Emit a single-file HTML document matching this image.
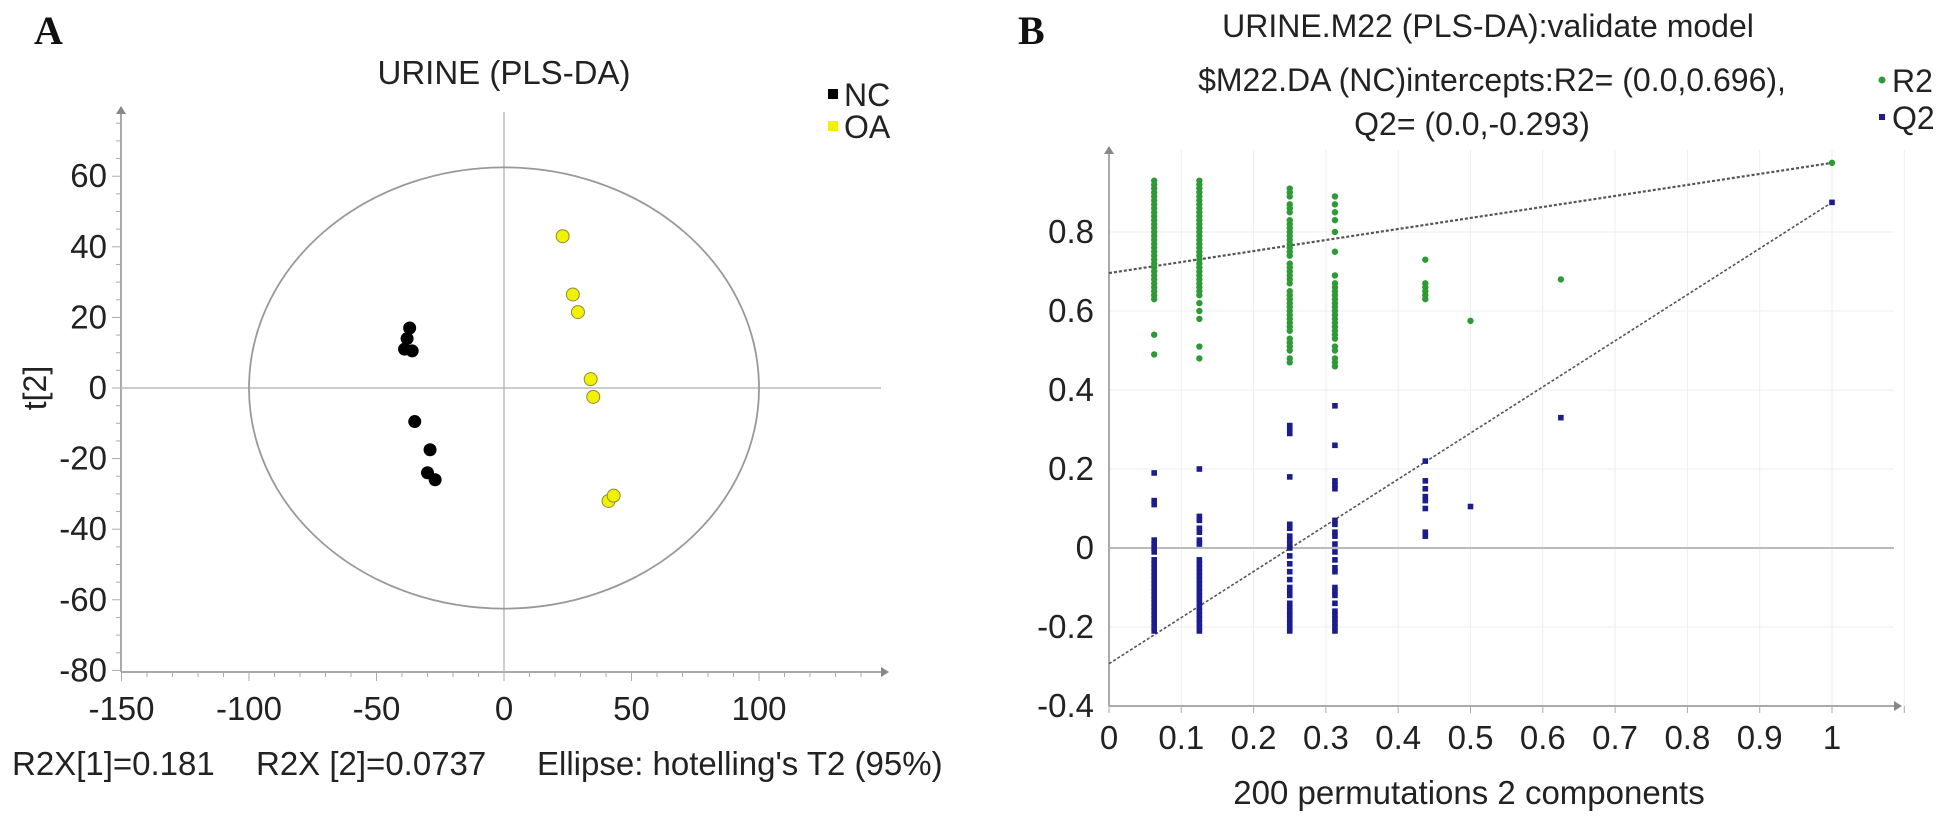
<!DOCTYPE html>
<html><head><meta charset="utf-8">
<style>
html,body{margin:0;padding:0;background:#fff;}
svg{display:block;font-family:"Liberation Sans",Arial,sans-serif;}
</style></head>
<body>
<svg id="fig" width="1960" height="817" viewBox="0 0 1960 817" xmlns="http://www.w3.org/2000/svg">
  <text x="34" y="44" font-family="Liberation Serif,serif" font-weight="bold" font-size="40" fill="#111">A</text>
  <text x="1018" y="44" font-family="Liberation Serif,serif" font-weight="bold" font-size="40" fill="#111">B</text>
  <text x="504" y="84" text-anchor="middle" font-size="33" fill="#222">URINE (PLS-DA)</text>
  <text x="1488" y="37" text-anchor="middle" font-size="32" fill="#222">URINE.M22 (PLS-DA):validate model</text>
  <text x="1492" y="91" text-anchor="middle" font-size="32" fill="#222">$M22.DA (NC)intercepts:R2= (0.0,0.696),</text>
  <text x="1472" y="135" text-anchor="middle" font-size="32" fill="#222">Q2= (0.0,-0.293)</text>
  <g id="gA"></g>
  <g id="gB"></g>
  <g>
    <rect x="828" y="89" width="10" height="10" fill="#000"/>
    <text x="844" y="106" font-size="32" fill="#222">NC</text>
    <rect x="828" y="121" width="10" height="10" fill="#f2f200"/>
    <text x="844" y="138" font-size="32" fill="#222">OA</text>
  </g>
  <g>
    <circle cx="1882" cy="80" r="3.5" fill="#2e9a35"/>
    <text x="1892" y="92" font-size="32" fill="#222">R2</text>
    <rect x="1879" y="114" width="6" height="6" fill="#1c1c8c"/>
    <text x="1892" y="129" font-size="32" fill="#222">Q2</text>
  </g>
  <text x="12" y="775" font-size="33" fill="#222">R2X[1]=0.181</text>
  <text x="256" y="775" font-size="33" fill="#222">R2X [2]=0.0737</text>
  <text x="537" y="775" font-size="33" fill="#222">Ellipse: hotelling's T2 (95%)</text>
  <text x="1469" y="804" text-anchor="middle" font-size="33" fill="#222">200 permutations 2 components</text>
  <text transform="translate(46,388) rotate(-90)" text-anchor="middle" font-size="32" fill="#222">t[2]</text>
</svg>
<script>
// ---- Panel A data ----
const ncX = [-38, -37, -39, -36, -35, -29, -30, -27];
const ncY = [14, 17, 11, 10.5, -9.5, -17.5, -24, -26];
const oaX = [23, 27, 29, 34, 35, 41, 43];
const oaY = [43, 26.5, 21.5, 2.5, -2.5, -32, -30.5];
const aXTicks = [-150, -100, -50, 0, 50, 100];
const aYTicks = [60, 40, 20, 0, -20, -40, -60, -80];
const ellipseRadii = [100, 62.5];

// ---- Panel B data ----
const permX = [0.0625, 0.125, 0.25, 0.3125, 0.4375, 0.5, 0.625, 1];
const r2Cols = [
  [0.93,0.92,0.91,0.90,0.89,0.88,0.87,0.86,0.85,0.84,0.83,0.82,0.81,0.80,0.79,0.78,0.77,0.76,0.75,0.74,0.73,0.72,0.71,0.70,0.69,0.68,0.67,0.66,0.65,0.64,0.63,0.54,0.49],
  [0.93,0.92,0.91,0.90,0.89,0.88,0.87,0.86,0.85,0.84,0.83,0.82,0.81,0.80,0.79,0.78,0.77,0.76,0.75,0.74,0.73,0.72,0.71,0.70,0.69,0.68,0.67,0.66,0.65,0.64,0.62,0.60,0.58,0.51,0.48],
  [0.91,0.90,0.89,0.87,0.86,0.85,0.83,0.82,0.81,0.80,0.79,0.78,0.77,0.76,0.75,0.74,0.72,0.71,0.70,0.69,0.68,0.67,0.65,0.64,0.63,0.62,0.61,0.60,0.59,0.58,0.57,0.56,0.55,0.53,0.52,0.51,0.50,0.48,0.47],
  [0.89,0.87,0.85,0.83,0.80,0.75,0.69,0.67,0.66,0.65,0.64,0.63,0.62,0.61,0.60,0.59,0.58,0.57,0.56,0.55,0.54,0.53,0.51,0.50,0.48,0.47,0.46],
  [0.73,0.67,0.66,0.65,0.64,0.63],
  [0.575],
  [0.68],
  [0.975]
];
const q2Cols = [
  [0.19,0.12,0.11,0.02,0.01,0.00,-0.01,-0.03,-0.04,-0.05,-0.06,-0.07,-0.08,-0.09,-0.10,-0.11,-0.12,-0.13,-0.14,-0.15,-0.16,-0.17,-0.18,-0.19,-0.20,-0.21],
  [0.20,0.08,0.07,0.05,0.04,0.02,0.01,-0.03,-0.04,-0.05,-0.06,-0.07,-0.08,-0.09,-0.10,-0.11,-0.12,-0.13,-0.14,-0.15,-0.16,-0.17,-0.18,-0.19,-0.20,-0.21],
  [0.31,0.30,0.29,0.18,0.06,0.05,0.03,0.02,0.01,0.00,-0.02,-0.04,-0.06,-0.08,-0.10,-0.11,-0.12,-0.14,-0.15,-0.16,-0.17,-0.18,-0.19,-0.20,-0.21],
  [0.36,0.26,0.17,0.16,0.15,0.07,0.06,0.04,0.03,0.01,-0.01,-0.03,-0.05,-0.06,-0.10,-0.11,-0.12,-0.14,-0.16,-0.17,-0.18,-0.19,-0.20,-0.21],
  [0.22,0.17,0.15,0.13,0.12,0.10,0.04,0.03],
  [0.105],
  [0.33],
  [0.875]
];
const r2Intercept = [0.696, 0.975];
const q2Intercept = [-0.293, 0.875];
const bXTicks = [0, 0.1, 0.2, 0.3, 0.4, 0.5, 0.6, 0.7, 0.8, 0.9, 1];
const bXTickLabels = ["0","0.1","0.2","0.3","0.4","0.5","0.6","0.7","0.8","0.9","1"];
const bYTicks = [-0.4, -0.2, 0, 0.2, 0.4, 0.6, 0.8];
const bYTickLabels = ["-0.4","-0.2","0","0.2","0.4","0.6","0.8"];

const NS = "http://www.w3.org/2000/svg";
function mk(tag, attrs, parent){ const e=document.createElementNS(NS,tag); for(const k in attrs) e.setAttribute(k,attrs[k]); parent.appendChild(e); return e; }

// ---- Panel A ----
const ax = v => 504 + v*2.55;
const ay = v => 388 - v*3.53;
const gA = document.getElementById('gA');
let el = mk('line',{x1:121,y1:672,x2:881,y2:672,stroke:'#aaa','stroke-width':2},gA);
 
el = mk('path',{d:'M881,667 L889,672 L881,677 Z',fill:'#888'},gA);
 
el = mk('line',{x1:121,y1:112,x2:121,y2:672,stroke:'#aaa','stroke-width':2},gA);
 
el = mk('path',{d:'M116,114 L121,106 L126,114 Z',fill:'#888'},gA);
 
for(let v=-150; v<=140; v+=10){
  el = mk('line',{x1:ax(v),y1:672,x2:ax(v),y2:v%50===0?681:677,stroke:'#aaa','stroke-width':1},gA);
   
}
for(let v=-80; v<=75; v+=5){
  el = mk('line',{x1:v%20===0?112:116,y1:ay(v),x2:121,y2:ay(v),stroke:'#aaa','stroke-width':1},gA);
   
}
el = mk('line',{x1:121,y1:ay(0),x2:881,y2:ay(0),stroke:'#bbb','stroke-width':1.5},gA);
 
el = mk('line',{x1:ax(0),y1:112,x2:ax(0),y2:672,stroke:'#bbb','stroke-width':1.5},gA);
 
el = mk('ellipse',{cx:ax(0),cy:ay(0),rx:ellipseRadii[0]*2.55,ry:ellipseRadii[1]*3.53,fill:'none',stroke:'#999','stroke-width':1.8},gA);
 
aXTicks.forEach(v=>{
  const t = mk('text',{x:ax(v),y:720,'text-anchor':'middle','font-size':33,fill:'#222'},gA);
  t.textContent = String(v);
   
});
aYTicks.forEach(v=>{
  const t = mk('text',{x:107,y:ay(v)+11,'text-anchor':'end','font-size':33,fill:'#222'},gA);
  t.textContent = String(v);
   
});
ncX.forEach((v,i)=>{
  const c = mk('circle',{cx:ax(v),cy:ay(ncY[i]),r:6.5,fill:'#000'},gA);
   
});
oaX.forEach((v,i)=>{
  const c = mk('circle',{cx:ax(v),cy:ay(oaY[i]),r:6.5,fill:'#f2f200',stroke:'#8a8a40','stroke-width':1},gA);
   
});

// ---- Panel B ----
const bx = v => 1109 + v*723;
const by = v => 548 - v*395;
const gB = document.getElementById('gB');
for(let i=1;i<=11;i++){
  const v=i/10;
  el = mk('line',{x1:bx(v),y1:150,x2:bx(v),y2:706,stroke:'#eee','stroke-width':1},gB);
   
}
bYTicks.forEach(v=>{
  el = mk('line',{x1:1109,y1:by(v),x2:1894,y2:by(v),stroke:v===0?'#bbb':'#eee','stroke-width':v===0?2:1},gB);
   
});
el = mk('line',{x1:1109,y1:706,x2:1894,y2:706,stroke:'#aaa','stroke-width':2},gB);
 
el = mk('path',{d:'M1894,701 L1902,706 L1894,711 Z',fill:'#888'},gB);
 
el = mk('line',{x1:1109,y1:152,x2:1109,y2:706,stroke:'#aaa','stroke-width':2},gB);
 
el = mk('path',{d:'M1104,154 L1109,146 L1114,154 Z',fill:'#888'},gB);
 
for(let i=0;i<=11;i++){
  el = mk('line',{x1:bx(i/10),y1:706,x2:bx(i/10),y2:713,stroke:'#aaa','stroke-width':1},gB);
   
}
bXTicks.forEach((v,i)=>{
  const t = mk('text',{x:bx(v),y:749,'text-anchor':'middle','font-size':33,fill:'#222'},gB);
  t.textContent = bXTickLabels[i];
   
});
bYTicks.forEach((v,i)=>{
  const t = mk('text',{x:1094,y:by(v)+11,'text-anchor':'end','font-size':33,fill:'#222'},gB);
  t.textContent = bYTickLabels[i];
   
});
el = mk('line',{x1:bx(0),y1:by(r2Intercept[0]),x2:bx(1),y2:by(r2Intercept[1]),stroke:'#555','stroke-width':2.2,'stroke-dasharray':'3 2'},gB);
 
el = mk('line',{x1:bx(0),y1:by(q2Intercept[0]),x2:bx(1),y2:by(q2Intercept[1]),stroke:'#555','stroke-width':1.6,'stroke-dasharray':'3 2'},gB);
 
permX.forEach((x,ci)=>{
  r2Cols[ci].forEach(v=>{
    const c = mk('circle',{cx:bx(x),cy:by(v),r:3.2,fill:'#2e9a35'},gB);
     
  });
  q2Cols[ci].forEach(v=>{
    const r = mk('rect',{x:bx(x)-2.8,y:by(v)-2.8,width:5.6,height:5.6,fill:'#1c1c8c'},gB);
     
  });
});
</script>
</body></html>
